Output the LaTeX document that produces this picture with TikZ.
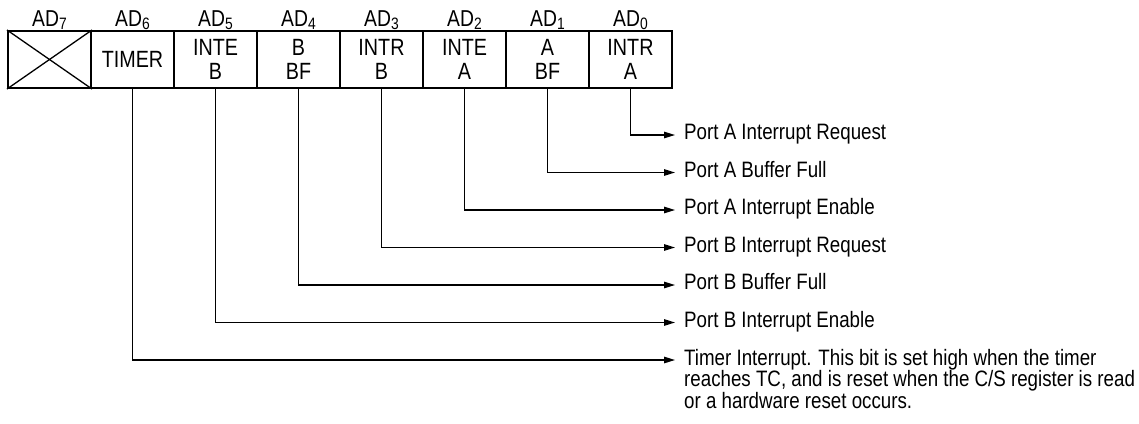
\documentclass[tikz,border=0pt]{standalone}
\usepackage{fontspec}
\setmainfont[FakeStretch=0.84]{Liberation Sans}
\usetikzlibrary{arrows.meta}

\begin{document}
\begin{tikzpicture}[x=1pt,y=-1pt,draw=black!100]

	\def \cellrow{59.5}
	\def \toprow{27}
	\def \tipx{675}
	\def \textx{684}
	\def \adsub#1{\raisebox{-2pt}{\fontsize{16.5}{16.5}\selectfont #1}}
	\tikzstyle{bit}=[draw,line width=2pt,minimum width=83pt,minimum height=57pt,inner sep=0pt,align=center,font=\fontsize{23.5}{24.5}\selectfont]
	\tikzstyle{adlabel}=[anchor=base,inner sep=0pt,font=\fontsize{23}{24}\selectfont]
	\tikzstyle{desc}=[anchor=base west,inner sep=0pt,align=left,font=\fontsize{22.3}{21.5}\selectfont]
	\tikzstyle{wire}=[line width=1.3pt,-{Triangle[length=11pt,width=6.5pt]}]

	\useasboundingbox (0,0) rectangle (1139,423);

	% bit labels
	\node[adlabel] (ad7) at (49.5,\toprow)	{AD\adsub{7}};
	\node[adlabel] (ad6) at (132.5,\toprow)	{AD\adsub{6}};
	\node[adlabel] (ad5) at (215.5,\toprow)	{AD\adsub{5}};
	\node[adlabel] (ad4) at (298.5,\toprow)	{AD\adsub{4}};
	\node[adlabel] (ad3) at (381.5,\toprow)	{AD\adsub{3}};
	\node[adlabel] (ad2) at (464.5,\toprow)	{AD\adsub{2}};
	\node[adlabel] (ad1) at (547.5,\toprow)	{AD\adsub{1}};
	\node[adlabel] (ad0) at (630.5,\toprow)	{AD\adsub{0}};

	% register cells
	\node[bit] (b7) at (49.5,\cellrow)	{};
	\node[bit] (b6) at (132.5,\cellrow)	{TIMER};
	\node[bit] (b5) at (215.5,\cellrow)	{INTE\\B};
	\node[bit] (b4) at (298.5,\cellrow)	{B\\BF};
	\node[bit] (b3) at (381.5,\cellrow)	{INTR\\B};
	\node[bit] (b2) at (464.5,\cellrow)	{INTE\\A};
	\node[bit] (b1) at (547.5,\cellrow)	{A\\BF};
	\node[bit] (b0) at (630.5,\cellrow)	{INTR\\A};
	\draw[line width=1.3pt] (b7.north west) -- (b7.south east);
	\draw[line width=1.3pt] (b7.south west) -- (b7.north east);

	% arrow ends
	\coordinate (e0) at (\tipx,135);
	\coordinate (e1) at (\tipx,172.5);
	\coordinate (e2) at (\tipx,210);
	\coordinate (e3) at (\tipx,247.5);
	\coordinate (e4) at (\tipx,285);
	\coordinate (e5) at (\tipx,322.5);
	\coordinate (e6) at (\tipx,360);

	% descriptions
	\node[desc] (d0) at (\textx,139.5)	{Port A Interrupt Request};
	\node[desc] (d1) at (\textx,177)	{Port A Buffer Full};
	\node[desc] (d2) at (\textx,214.5)	{Port A Interrupt Enable};
	\node[desc] (d3) at (\textx,252)	{Port B Interrupt Request};
	\node[desc] (d4) at (\textx,289.5)	{Port B Buffer Full};
	\node[desc] (d5) at (\textx,327)	{Port B Interrupt Enable};
	% base of a multi-line node is its last line
	\node[desc] (d6) at (\textx,408)	{Timer Interrupt. This bit is set high when the timer\\reaches TC, and is reset when the C/S register is read\\or a hardware reset occurs.};

	% connectors
	\draw[wire] (b0.south) |- (e0);
	\draw[wire] (b1.south) |- (e1);
	\draw[wire] (b2.south) |- (e2);
	\draw[wire] (b3.south) |- (e3);
	\draw[wire] (b4.south) |- (e4);
	\draw[wire] (b5.south) |- (e5);
	\draw[wire] (b6.south) |- (e6);
\end{tikzpicture}
\end{document}
